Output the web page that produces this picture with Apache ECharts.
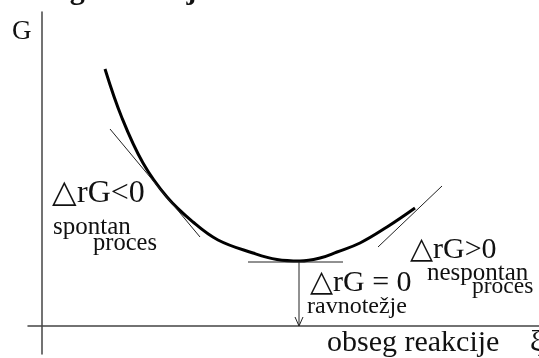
<!DOCTYPE html>
<html>
<head>
<meta charset="utf-8">
<script src="https://cdn.jsdelivr.net/npm/echarts@6/dist/echarts.min.js"></script>
<style>
  html, body { margin: 0; padding: 0; background: #fff; }
  #chart { width: 539px; height: 358px; }
</style>
</head>
<body>
<div id="chart"></div>
<script>
// Gibbs energy G as a function of the extent of reaction ξ
const curveXi = [12.6, 16.0, 20.2, 25.0, 30.2, 35.2, 42.2, 47.0, 51.6, 55.6, 59.0, 63.6, 69.0, 74.6];
const curveG  = [51.4, 41.6, 32.6, 25.8, 20.8, 17.2, 14.6, 13.3, 13.0, 13.6, 14.8, 16.6, 19.8, 23.6];

// tangents: negative slope, zero slope at the minimum, positive slope
const tangentLeftXi  = [13.6, 31.6];
const tangentLeftG   = [39.4, 17.8];
const tangentMinXi   = [41.2, 60.2];
const tangentMinG    = [12.8, 12.8];
const tangentRightXi = [67.2, 80.0];
const tangentRightG  = [15.8, 28.0];

// equilibrium arrow from the minimum down to the ξ axis
const arrowXi = [51.4, 51.4];
const arrowG  = [12.8, 0];
const arrowHeadXi = [50.6, 51.4, 52.2];
const arrowHeadG  = [1.8, 0, 1.8];

const SERIF = '"Liberation Serif", "Times New Roman", serif';

function pairs(xs, ys) { return xs.map((x, i) => [x, ys[i]]); }

const chart = echarts.init(document.getElementById('chart'), null, { renderer: 'canvas' });

const thin = { color: '#222', width: 1 };

function txt(text, x, y, size, weight) {
  return {
    type: 'text', x: x, y: y, silent: true,
    style: { text: text, fill: '#111', font: (weight || 'normal') + ' ' + size + 'px ' + SERIF, verticalAlign: 'middle', align: 'left' }
  };
}

chart.setOption({
  animation: false,
  backgroundColor: '#fff',
  grid: { left: 28, right: 0, top: 12, bottom: 4, containLabel: false },
  xAxis: {
    type: 'value', min: -2.8, max: 99.4,
    axisLine: { show: true, onZero: true, lineStyle: { color: '#444', width: 1.5 } },
    axisTick: { show: false }, axisLabel: { show: false }, splitLine: { show: false }
  },
  yAxis: {
    type: 'value', min: -5.6, max: 62.8,
    axisLine: { show: true, onZero: true, lineStyle: { color: '#444', width: 1.5 } },
    axisTick: { show: false }, axisLabel: { show: false }, splitLine: { show: false }
  },
  series: [
    { type: 'line', data: pairs(curveXi, curveG), smooth: 0.4, showSymbol: false, lineStyle: { color: '#000', width: 3 }, z: 3 },
    { type: 'line', data: pairs(tangentLeftXi, tangentLeftG), showSymbol: false, lineStyle: thin, z: 4 },
    { type: 'line', data: pairs(tangentMinXi, tangentMinG), showSymbol: false, lineStyle: thin, z: 4 },
    { type: 'line', data: pairs(tangentRightXi, tangentRightG), showSymbol: false, lineStyle: thin, z: 4 },
    { type: 'line', data: pairs(arrowXi, arrowG), showSymbol: false, lineStyle: thin, z: 4 },
    { type: 'line', data: pairs(arrowHeadXi, arrowHeadG), showSymbol: false, lineStyle: thin, z: 4 }
  ],
  graphic: [
    txt('obsega reakcije minimum.', 13, -9, 30, 'bold'),
    txt('G', 12, 32, 27),
    txt('\u25B3rG<0', 52, 194, 32),
    txt('spontan', 53, 227, 25),
    txt('proces', 93, 244, 24.5),
    txt('\u25B3rG = 0', 310, 283, 30),
    txt('ravnotežje', 307, 307, 24),
    txt('\u25B3rG>0', 410, 250, 30),
    txt('nespontan', 427, 273, 25),
    txt('proces', 472, 287, 23.5),
    txt('obseg reakcije', 327, 343, 30),
    txt('\u03BE', 530, 343, 29)
  ]
});
</script>
</body>
</html>
